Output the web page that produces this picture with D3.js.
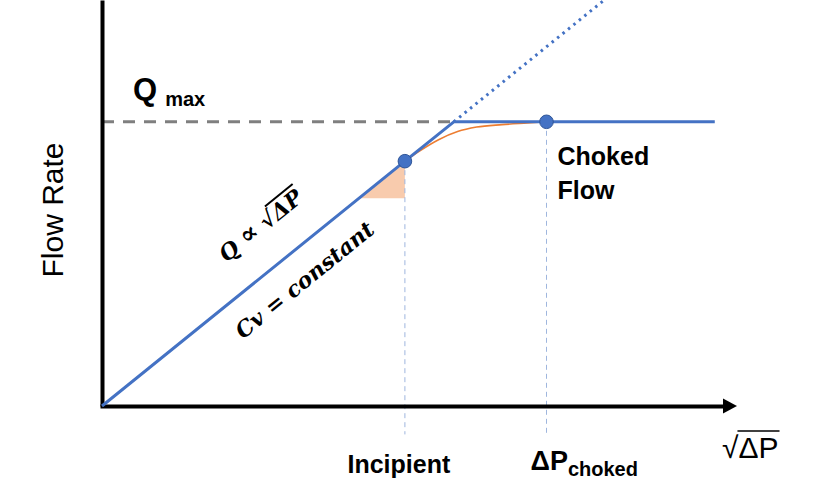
<!DOCTYPE html>
<html>
<head>
<meta charset="utf-8">
<script src="https://cdn.jsdelivr.net/npm/d3@7"></script>
<style>
  html, body { margin: 0; padding: 0; background: #fff; }
</style>
</head>
<body>
<div class="canvas"></div>
<script>
// data (x = sqrt(dP), q = flow rate, both 0..100)
const lineX = [0, 47.7, 55.4, 96.5];
const lineQ = [0, 60.3, 70, 70];
const dottedX = [55.4, 79.1];
const dottedQ = [70, 100];
const curveX = [47.7, 50, 53, 56, 59, 63, 67, 70];
const curveQ = [60.3, 62.8, 65.6, 67.6, 68.7, 69.3, 69.7, 70];
const qmaxLine = [0, 55.4];
const qmax = 70;
const markerX = [47.7, 70];
const markerQ = [60.3, 70];
const triangleX = [40.5, 47.7, 47.7];
const triangleQ = [51.2, 60.3, 51.2];
const guideBottom = -7;

const svg = d3.select('.canvas')
  .append('svg')
  .attr('width', 840)
  .attr('height', 480);

//create margins and dimensions
const margin = { top: 0, right: 103, bottom: 74, left: 102 }
const graphWidth = 840 - margin.left - margin.right;
const graphHeight = 480 - margin.top - margin.bottom;

const graph = svg.append('g')
  .attr('transform', `translate(${margin.left},${margin.top})`);

//scales
const x = d3.scaleLinear().domain([0, 100]).range([0, graphWidth]);
const y = d3.scaleLinear().domain([0, 100]).range([graphHeight, 0]);

const blue = '#4472c4';
const orange = '#ed7d31';

// orange triangle
graph.append('path')
  .attr('d', d3.line()(triangleX.map((d, i) => [x(d), y(triangleQ[i])])) + 'Z')
  .attr('fill', '#f8cbad');

// guide lines
graph.selectAll('.guide')
  .data(markerX)
  .enter()
  .append('line')
  .attr('class', 'guide')
  .attr('x1', d => x(d))
  .attr('x2', d => x(d))
  .attr('y1', (d, i) => y(markerQ[i]))
  .attr('y2', y(guideBottom))
  .attr('stroke', '#9fb6de')
  .attr('stroke-width', 1)
  .attr('stroke-dasharray', '5,4');

// qmax dashed line
graph.append('line')
  .attr('x1', x(qmaxLine[0]))
  .attr('x2', x(qmaxLine[1]))
  .attr('y1', y(qmax))
  .attr('y2', y(qmax))
  .attr('stroke', '#7f7f7f')
  .attr('stroke-width', 3)
  .attr('stroke-dasharray', '12,9');

// axes
const xAxisScale = x.copy().range([-2, graphWidth - 11]);
const xAxis = d3.axisBottom(xAxisScale).tickValues([]).tickSizeOuter(0);
const yAxis = d3.axisLeft(y).tickValues([]).tickSizeOuter(0);

const xAxisGroup = graph.append('g')
  .attr('transform', `translate(0,${graphHeight})`)
  .call(xAxis);
const yAxisGroup = graph.append('g').call(yAxis);

[xAxisGroup, yAxisGroup].forEach(g => g.select('.domain')
  .attr('stroke', '#000')
  .attr('stroke-width', 4));

graph.append('path')
  .attr('d', `M${x(100) - 14},${y(0) - 7.5}L${x(100)},${y(0)}L${x(100) - 14},${y(0) + 7.5}Z`)
  .attr('fill', '#000');

// lines
const line = d3.line().x(d => x(d[0])).y(d => y(d[1]));

graph.append('path')
  .attr('d', line(dottedX.map((d, i) => [d, dottedQ[i]])))
  .attr('fill', 'none')
  .attr('stroke', blue)
  .attr('stroke-width', 3)
  .attr('stroke-dasharray', '2.5,4.5');

graph.append('path')
  .attr('d', line.curve(d3.curveMonotoneX)(curveX.map((d, i) => [d, curveQ[i]])))
  .attr('fill', 'none')
  .attr('stroke', orange)
  .attr('stroke-width', 1.6);

graph.append('path')
  .attr('d', line.curve(d3.curveLinear)(lineX.map((d, i) => [d, lineQ[i]])))
  .attr('fill', 'none')
  .attr('stroke', blue)
  .attr('stroke-width', 3)
  .attr('stroke-linejoin', 'round');

graph.selectAll('circle')
  .data(markerX)
  .enter()
  .append('circle')
  .attr('cx', d => x(d))
  .attr('cy', (d, i) => y(markerQ[i]))
  .attr('r', 6.8)
  .attr('fill', blue)
  .attr('stroke', '#2f5597')
  .attr('stroke-width', 1);

// labels
const sans = '"Liberation Sans", Arial, sans-serif';
const serif = '"DejaVu Serif", serif';

const qLabel = graph.append('text')
  .attr('x', 31)
  .attr('y', y(qmax) - 22)
  .attr('font-family', sans)
  .attr('font-weight', 'bold');
qLabel.append('tspan').attr('font-size', 31).text('Q');
qLabel.append('tspan').attr('font-size', 20).attr('dx', 8).attr('dy', 6).text('max');

graph.append('text')
  .attr('transform', `translate(-39,${graphHeight / 2 + 7}) rotate(-90)`)
  .attr('text-anchor', 'middle')
  .attr('font-family', sans)
  .attr('font-size', 30)
  .text('Flow Rate');

const choked = graph.append('text')
  .attr('font-family', sans)
  .attr('font-weight', 'bold')
  .attr('font-size', 25);
choked.append('tspan').attr('x', x(70) + 11).attr('y', y(70) + 43).text('Choked');
choked.append('tspan').attr('x', x(70) + 11).attr('y', y(70) + 77).text('Flow');

graph.append('text')
  .attr('x', x(markerX[0]) - 6)
  .attr('y', y(0) + 67)
  .attr('text-anchor', 'middle')
  .attr('font-family', sans)
  .attr('font-weight', 'bold')
  .attr('font-size', 25)
  .text('Incipient');

const dp = graph.append('text')
  .attr('x', x(markerX[1]) - 16)
  .attr('y', y(0) + 64)
  .attr('font-family', sans)
  .attr('font-weight', 'bold');
dp.append('tspan').attr('font-size', 27).text('ΔP');
dp.append('tspan').attr('font-size', 20).attr('dy', 6).text('choked');

// sqrt with overline
const overline = (text, start, weight) => {
  const node = text.node();
  const fs = +text.attr('font-size');
  const x0 = node.getStartPositionOfChar(start).x;
  const x1 = node.getEndPositionOfChar(node.getNumberOfChars() - 1).x;
  const by = node.getStartPositionOfChar(start).y;
  const parent = d3.select(node.parentNode);
  parent.append('line')
    .attr('x1', x0 - 1)
    .attr('x2', x1 + 1)
    .attr('y1', by - fs * 0.9)
    .attr('y2', by - fs * 0.9)
    .attr('stroke', text.attr('fill') || '#000')
    .attr('stroke-width', weight);
};

const axisLabel = graph.append('text')
  .attr('x', 722 - margin.left)
  .attr('y', y(0) + 52)
  .attr('font-family', sans)
  .attr('font-size', 30)
  .text('√ΔP');
overline(axisLabel, 1, 1.6);

// math labels along the line
const angle = Math.atan2(y(0) - y(lineQ[1]), x(lineX[1]) - x(0)) * 180 / Math.PI;
const labelX = 29;
const labelQ = labelX * lineQ[1] / lineX[1];

const mathGroup = graph.append('g')
  .attr('transform', `translate(${x(labelX)},${y(labelQ)}) rotate(${-angle})`);

const law = mathGroup.append('text')
  .attr('y', -33)
  .attr('text-anchor', 'middle')
  .attr('font-family', serif)
  .attr('font-style', 'italic')
  .attr('font-weight', 'bold')
  .attr('font-size', 22);
law.append('tspan').text('Q ');
law.append('tspan').attr('font-style', 'normal').attr('font-size', 26).text('∝');
law.append('tspan').text(' √ΔP');
overline(law, 5, 2);

mathGroup.append('text')
  .attr('y', 37)
  .attr('text-anchor', 'middle')
  .attr('font-family', serif)
  .attr('font-style', 'italic')
  .attr('font-weight', 'bold')
  .attr('font-size', 22)
  .text('Cv = constant');
</script>
</body>
</html>
